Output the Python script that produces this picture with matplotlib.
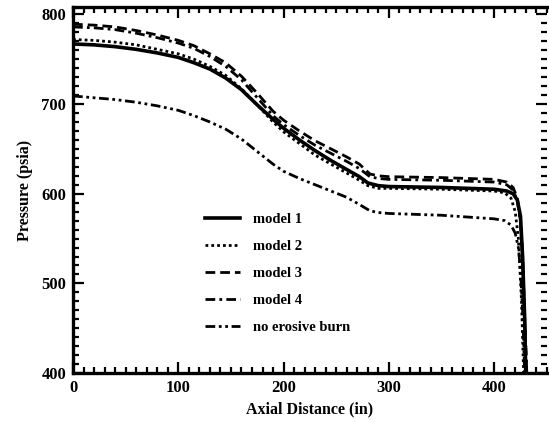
import matplotlib
matplotlib.use('Agg')
import matplotlib.pyplot as plt
from matplotlib.ticker import MultipleLocator

plt.rcParams['font.family'] = ['Liberation Serif', 'DejaVu Serif']
plt.rcParams['font.weight'] = 'bold'
plt.rcParams['axes.labelweight'] = 'bold'

# axial distance (in) and pressure (psia) for each run
x_m1 = [0, 20, 40, 60, 80, 100, 115, 130, 145, 160, 175, 190, 200, 215, 230, 245, 260, 272, 280, 290, 300, 350, 400, 412, 418, 422, 425, 427, 429, 430]
p_m1 = [767, 766, 764, 761, 757, 752, 746, 739, 729, 716, 699, 683, 673, 660, 648, 637, 627, 619, 612, 609, 608, 607, 605, 603, 600, 593, 575, 530, 460, 400]

x_m2 = [0, 20, 40, 60, 80, 100, 115, 130, 145, 160, 175, 190, 200, 215, 230, 245, 260, 272, 280, 290, 300, 350, 400, 410, 416, 420, 423, 426, 428]
p_m2 = [772, 771, 769, 766, 761, 756, 750, 742, 732, 717, 699, 680, 669, 656, 643, 633, 623, 615, 609, 606, 606, 605, 603, 601, 595, 580, 550, 480, 400]

x_m3 = [0, 20, 40, 60, 80, 100, 115, 130, 145, 160, 175, 190, 200, 215, 230, 245, 260, 272, 282, 290, 300, 350, 400, 412, 418, 422, 425, 427, 429, 431]
p_m3 = [789, 788, 786, 782, 777, 771, 765, 756, 746, 731, 712, 692, 682, 670, 659, 650, 641, 633, 622, 620, 619, 618, 616, 613, 607, 595, 570, 530, 460, 400]

x_m4 = [0, 20, 40, 60, 80, 100, 115, 130, 145, 160, 175, 190, 200, 215, 230, 245, 260, 272, 282, 290, 300, 350, 400, 412, 418, 422, 425, 427, 429, 431]
p_m4 = [786, 785, 783, 779, 774, 768, 762, 753, 742, 727, 707, 687, 677, 665, 654, 645, 636, 628, 619, 617, 616, 615, 613, 610, 604, 592, 568, 530, 460, 400]

x_ne = [0, 20, 40, 60, 80, 100, 115, 130, 145, 160, 175, 190, 200, 215, 230, 245, 260, 272, 282, 290, 300, 350, 400, 410, 416, 420, 423, 425, 427, 429]
p_ne = [709, 707, 705, 702, 698, 693, 687, 680, 672, 661, 647, 633, 625, 617, 610, 603, 596, 588, 581, 579, 578, 576, 572, 570, 565, 556, 540, 515, 470, 400]

labels = ['model 1', 'model 2', 'model 3', 'model 4', 'no erosive burn']

fig = plt.figure(figsize=(5.49, 4.23), dpi=100)
ax = fig.add_axes([0.133, 0.118, 0.863, 0.865])

lw = 2.0
ax.plot(x_m1, p_m1, color='black', lw=2.6, ls='-', label=labels[0])
ax.plot(x_m2, p_m2, color='black', lw=lw, ls=(0, (1, 1.1)), label=labels[1])
ax.plot(x_m3, p_m3, color='black', lw=lw, ls=(0, (3.5, 1.8)), label=labels[2])
ax.plot(x_m4, p_m4, color='black', lw=lw, ls=(0, (3.5, 1.5, 1, 1.5)), label=labels[3])
ax.plot(x_ne, p_ne, color='black', lw=lw, ls=(0, (3.5, 1.3, 1, 1.3, 1, 1.3)), label=labels[4])

ax.set_xlim(0, 450)
ax.set_ylim(400, 808)
ax.xaxis.set_major_locator(MultipleLocator(100))
ax.xaxis.set_minor_locator(MultipleLocator(10))
ax.yaxis.set_major_locator(MultipleLocator(100))
ax.yaxis.set_minor_locator(MultipleLocator(10))
ax.tick_params(which='both', direction='in', top=True, right=True, width=1.6,
               labelsize=12, pad=5)
ax.tick_params(which='major', length=8)
ax.tick_params(which='minor', length=4)
for s in ['left', 'bottom', 'top']:
    ax.spines[s].set_linewidth(2.4)
ax.spines['right'].set_visible(False)

ax.set_xlabel('Axial Distance (in)', fontsize=11.5, labelpad=4)
ax.set_ylabel('Pressure (psia)', fontsize=11.5, labelpad=6)

ax.legend(loc='upper left', bbox_to_anchor=(0.25, 0.475), frameon=False,
          fontsize=10.5, handlelength=2.4, handletextpad=0.9, labelspacing=0.95)

fig.savefig('out.png', dpi=100)
